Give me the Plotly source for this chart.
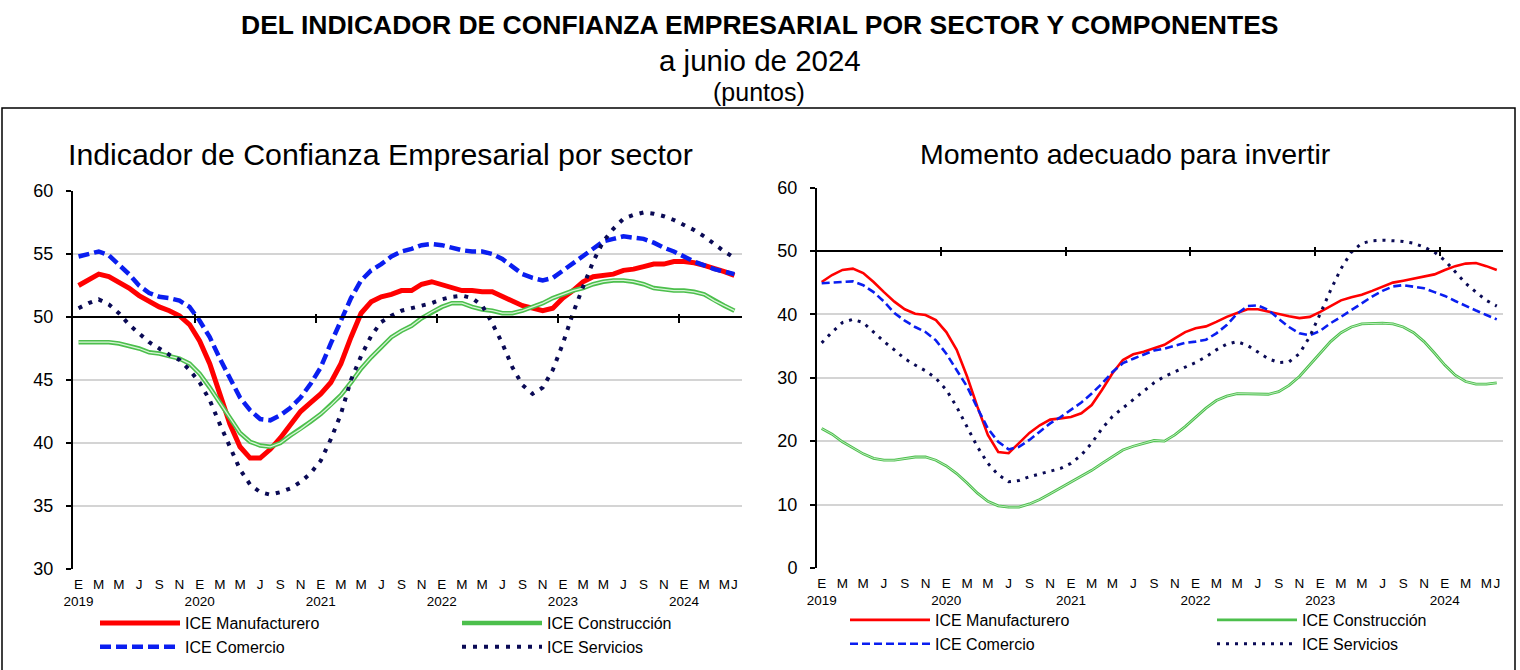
import plotly.graph_objects as go

W, H = 1520, 670

# months Jan 2019 .. Jun 2024
meses = ["%d-%02d" % (a, m) for a in range(2019, 2025) for m in range(1, 13)][:66]
letras = ["E", "F", "M", "A", "M", "J", "J", "A", "S", "O", "N", "D"]

# --- Indicador de Confianza Empresarial por sector (puntos)
ice_manuf = [52.5, 53.0, 53.4, 53.2, 52.8, 52.3, 51.7, 51.2, 50.8, 50.5, 50.1, 49.4,
             48.1, 46.3, 43.9, 41.5, 39.7, 38.8, 38.8, 39.5, 40.4, 41.5, 42.5, 43.2,
             43.9, 44.8, 46.3, 48.4, 50.3, 51.2, 51.6, 51.8, 52.1, 52.1, 52.6, 52.8,
             52.6, 52.3, 52.1, 52.1, 52.0, 52.0, 51.6, 51.3, 50.9, 50.7, 50.5, 50.7,
             51.5, 52.1, 52.8, 53.2, 53.3, 53.4, 53.7, 53.8, 54.0, 54.2, 54.2, 54.4,
             54.4, 54.3, 54.1, 53.9, 53.6, 53.3]
ice_comercio = [54.8, 55.0, 55.2, 54.9, 54.2, 53.4, 52.5, 51.9, 51.6, 51.5, 51.3, 50.8,
                49.7, 48.4, 46.7, 45.1, 43.6, 42.6, 41.9, 41.8, 42.2, 42.8, 43.6, 44.7,
                46.0, 47.9, 49.7, 51.5, 52.9, 53.7, 54.2, 54.8, 55.2, 55.4, 55.7, 55.8,
                55.7, 55.5, 55.3, 55.2, 55.2, 55.0, 54.6, 54.0, 53.4, 53.1, 52.9, 53.1,
                53.7, 54.2, 54.9, 55.4, 56.0, 56.2, 56.4, 56.3, 56.2, 55.9, 55.5, 55.2,
                54.8, 54.4, 54.1, 53.8, 53.6, 53.4]
ice_construccion = [48.0, 48.0, 48.0, 48.0, 47.9, 47.7, 47.5, 47.2, 47.1, 46.9, 46.7, 46.3,
                    45.5, 44.4, 43.2, 42.0, 40.8, 40.1, 39.8, 39.7, 40.0, 40.6, 41.1, 41.7,
                    42.3, 43.0, 43.8, 44.8, 45.9, 46.8, 47.6, 48.4, 48.9, 49.3, 49.9, 50.4,
                    50.8, 51.1, 51.1, 50.8, 50.6, 50.5, 50.3, 50.3, 50.5, 50.8, 51.1, 51.5,
                    51.8, 52.1, 52.3, 52.6, 52.8, 52.9, 52.9, 52.8, 52.6, 52.3, 52.2, 52.1,
                    52.1, 52.0, 51.8, 51.3, 50.9, 50.5]
ice_servicios = [50.7, 51.1, 51.4, 51.0, 50.3, 49.4, 48.7, 48.0, 47.5, 47.0, 46.6, 45.8,
                 44.8, 43.4, 41.5, 39.7, 37.9, 36.7, 36.1, 35.9, 36.1, 36.4, 36.9, 37.6,
                 38.6, 40.3, 42.3, 45.0, 46.9, 48.5, 49.6, 50.1, 50.5, 50.7, 50.9, 51.1,
                 51.4, 51.6, 51.7, 51.5, 50.9, 49.5, 47.9, 46.0, 44.6, 43.9, 44.4, 45.8,
                 47.9, 50.3, 52.4, 54.4, 56.0, 57.0, 57.8, 58.1, 58.3, 58.2, 58.0, 57.7,
                 57.3, 56.9, 56.4, 55.8, 55.2, 54.7]

# --- Momento adecuado para invertir (puntos)
inv_manuf = [45.1, 46.2, 47.0, 47.2, 46.5, 45.1, 43.5, 42.0, 40.8, 40.1, 39.9, 39.1,
             37.2, 34.4, 30.2, 25.4, 21.0, 18.3, 18.1, 19.7, 21.3, 22.5, 23.4, 23.6,
             23.8, 24.4, 25.7, 28.1, 30.7, 32.8, 33.7, 34.1, 34.6, 35.2, 36.2, 37.2,
             37.8, 38.1, 38.8, 39.6, 40.2, 40.8, 40.8, 40.4, 40.0, 39.7, 39.4, 39.6,
             40.4, 41.3, 42.2, 42.7, 43.1, 43.7, 44.4, 45.0, 45.3, 45.6, 45.9, 46.3,
             47.0, 47.6, 48.0, 48.1, 47.6, 47.0]
inv_comercio = [44.9, 45.0, 45.2, 45.2, 44.6, 43.5, 42.0, 40.2, 39.0, 38.0, 37.2, 35.9,
                33.8, 31.2, 28.6, 25.2, 22.0, 19.9, 18.7, 19.1, 20.2, 21.5, 22.8, 23.8,
                24.9, 26.1, 27.5, 29.1, 30.9, 32.3, 33.0, 33.6, 34.3, 34.6, 35.1, 35.5,
                35.7, 36.0, 37.0, 38.3, 40.1, 41.3, 41.4, 40.7, 39.3, 38.0, 37.0, 36.7,
                37.4, 38.6, 39.6, 40.7, 41.7, 42.8, 43.7, 44.4, 44.6, 44.4, 44.1, 43.5,
                42.9, 42.1, 41.3, 40.6, 39.9, 39.2]
inv_construccion = [22.0, 21.1, 19.9, 18.9, 18.0, 17.3, 17.0, 17.0, 17.3, 17.5, 17.5, 17.0,
                    16.1, 14.9, 13.4, 11.8, 10.5, 9.8, 9.6, 9.6, 10.1, 10.8, 11.7, 12.6,
                    13.6, 14.5, 15.4, 16.5, 17.6, 18.6, 19.2, 19.6, 20.1, 20.0, 21.0, 22.3,
                    23.8, 25.2, 26.4, 27.1, 27.5, 27.5, 27.4, 27.4, 27.8, 28.8, 30.2, 32.0,
                    33.9, 35.7, 37.1, 38.0, 38.5, 38.6, 38.6, 38.5, 38.0, 37.1, 35.7, 33.9,
                    32.0, 30.4, 29.4, 29.0, 29.0, 29.2]
inv_servicios = [35.5, 37.2, 38.7, 39.2, 38.7, 37.2, 35.7, 34.4, 33.0, 32.0, 31.1, 29.9,
                 28.1, 25.4, 22.3, 19.1, 16.5, 14.7, 13.6, 13.8, 14.4, 14.8, 15.2, 15.7,
                 16.5, 17.8, 19.7, 22.0, 23.9, 25.2, 26.5, 27.8, 29.2, 30.2, 30.9, 31.6,
                 32.4, 33.3, 34.4, 35.3, 35.7, 35.1, 34.1, 33.0, 32.4, 32.5, 33.8, 36.5,
                 40.1, 43.8, 47.2, 49.8, 51.2, 51.6, 51.7, 51.6, 51.5, 51.2, 50.6, 49.8,
                 48.5, 46.7, 44.9, 43.5, 42.2, 41.3]

# tick labels: every other month, plus the last one
tick_idx = list(range(0, 66, 2)) + [65]
tick_vals = [meses[i] for i in tick_idx]
tick_text = []
for i in tick_idx:
    a, m = meses[i].split("-")
    t = letras[int(m) - 1]
    if m == "01":
        t = t + "<br>" + a
    tick_text.append(t)
year_marks = [11.5, 23.5, 35.5, 47.5, 59.5]

ROJO = "#FF0000"
AZUL = "#0A1EF0"
VERDE = "#4CBF4C"
VERDE_CL = "#D8F5D8"
MARINO = "#0A0A55"
FONT = "Liberation Sans, Arial, sans-serif"


def px_x(p):
    return p / W


def px_y(p):
    return 1 - p / H


fig = go.Figure()

# left panel
fig.add_trace(go.Scatter(x=meses, y=ice_manuf, name="ICE Manufacturero", mode="lines",
                         line=dict(color=ROJO, width=5), xaxis="x", yaxis="y", legend="legend"))
fig.add_trace(go.Scatter(x=meses, y=ice_comercio, name="ICE Comercio", mode="lines",
                         line=dict(color=AZUL, width=4.5, dash="11px,5px"), xaxis="x", yaxis="y",
                         legend="legend"))
fig.add_trace(go.Scatter(x=meses, y=ice_construccion, name="ICE Construcción", mode="lines",
                         line=dict(color=VERDE, width=4.5), xaxis="x", yaxis="y", legend="legend2"))
fig.add_trace(go.Scatter(x=meses, y=ice_construccion, mode="lines", showlegend=False, hoverinfo="skip",
                         line=dict(color=VERDE_CL, width=1.3), xaxis="x", yaxis="y"))
fig.add_trace(go.Scatter(x=meses, y=ice_servicios, name="ICE Servicios", mode="lines",
                         line=dict(color=MARINO, width=4, dash="4px,7px"), xaxis="x", yaxis="y",
                         legend="legend2"))

# right panel
fig.add_trace(go.Scatter(x=meses, y=inv_manuf, name="ICE Manufacturero", mode="lines",
                         line=dict(color=ROJO, width=2.6), xaxis="x2", yaxis="y2", legend="legend3"))
fig.add_trace(go.Scatter(x=meses, y=inv_comercio, name="ICE Comercio", mode="lines",
                         line=dict(color=AZUL, width=2.6, dash="8px,4px"), xaxis="x2", yaxis="y2",
                         legend="legend3"))
fig.add_trace(go.Scatter(x=meses, y=inv_construccion, name="ICE Construcción", mode="lines",
                         line=dict(color=VERDE, width=2.8), xaxis="x2", yaxis="y2", legend="legend4"))
fig.add_trace(go.Scatter(x=meses, y=inv_construccion, mode="lines", showlegend=False, hoverinfo="skip",
                         line=dict(color=VERDE_CL, width=0.8), xaxis="x2", yaxis="y2"))
fig.add_trace(go.Scatter(x=meses, y=inv_servicios, name="ICE Servicios", mode="lines",
                         line=dict(color=MARINO, width=3, dash="3px,6px"), xaxis="x2", yaxis="y2",
                         legend="legend4"))

# empty traces so the year-mark axes get drawn
fig.add_trace(go.Scatter(x=[], y=[], xaxis="x3", yaxis="y", showlegend=False))
fig.add_trace(go.Scatter(x=[], y=[], xaxis="x4", yaxis="y2", showlegend=False))

dom_x1 = [px_x(73), px_x(742)]
dom_x2 = [px_x(817), px_x(1503)]
dom_y1 = [px_y(569), px_y(191)]
dom_y2 = [px_y(568), px_y(187.5)]

xcommon = dict(type="category", categoryorder="array", categoryarray=meses,
               tickmode="array", tickvals=tick_vals, ticktext=tick_text, tickangle=0,
               showgrid=False, zeroline=False, showline=False, ticks="", automargin=False,
               ticklabelstandoff=5,
               tickfont=dict(family=FONT, size=13.5, color="#000000"))
ycommon = dict(showgrid=True, gridcolor="#D4D4D4", gridwidth=2, zeroline=False,
               showline=True, linecolor="#000000", linewidth=2, ticks="outside",
               ticklen=5, tickwidth=2, tickcolor="#000000", automargin=False,
               ticklabelstandoff=9,
               tickfont=dict(family=FONT, size=18, color="#000000"))
marks = dict(type="linear", anchor="free", showline=False, showgrid=False, zeroline=False,
             ticks="outside", ticklen=9, tickwidth=2, tickcolor="#000000", automargin=False,
             showticklabels=False, tickmode="array", tickvals=year_marks)

legend_style = dict(orientation="v", xanchor="left", yanchor="top", bgcolor="rgba(0,0,0,0)",
                    font=dict(family=FONT, size=16, color="#000000"), itemwidth=80,
                    tracegroupgap=0)

fig.update_layout(
    width=W, height=H,
    margin=dict(l=0, r=0, t=0, b=0, autoexpand=False),
    paper_bgcolor="white", plot_bgcolor="white",
    font=dict(family=FONT, color="#000000"),
    xaxis=dict(domain=dom_x1, anchor="y", range=[-0.55, 65.75], **xcommon),
    yaxis=dict(domain=dom_y1, anchor="x", range=[30, 60], dtick=5, **ycommon),
    xaxis2=dict(domain=dom_x2, anchor="y2", range=[-0.45, 65.6], **xcommon),
    yaxis2=dict(domain=dom_y2, anchor="x2", range=[0, 60], dtick=10, **ycommon),
    xaxis3=dict(domain=dom_x1, overlaying="x", position=px_y(312.5), range=[-0.55, 65.75], **marks),
    xaxis4=dict(domain=dom_x2, overlaying="x2", position=px_y(246.2), range=[-0.45, 65.6], **marks),
    legend=dict(x=px_x(95), y=px_y(606), **legend_style),
    legend2=dict(x=px_x(457), y=px_y(606), **legend_style),
    legend3=dict(x=px_x(845), y=px_y(603), **legend_style),
    legend4=dict(x=px_x(1212), y=px_y(603), **legend_style),
    showlegend=True,
)

# 50-point reference lines
fig.add_shape(type="line", xref="x domain", yref="y", x0=0, x1=1, y0=50, y1=50,
              line=dict(color="#000000", width=2))
fig.add_shape(type="line", xref="x2 domain", yref="y2", x0=0, x1=1, y0=50, y1=50,
              line=dict(color="#000000", width=2))

# outer frame
fig.add_shape(type="rect", xref="paper", yref="paper", x0=px_x(2), x1=px_x(1515),
              y0=-0.05, y1=px_y(108), line=dict(color="#000000", width=1.5), layer="below")

titulo = dict(xref="paper", yref="paper", showarrow=False, xanchor="center", yanchor="middle")
fig.add_annotation(text="<b>DEL INDICADOR DE CONFIANZA EMPRESARIAL POR SECTOR Y COMPONENTES</b>",
                   x=px_x(760), y=px_y(25), font=dict(family=FONT, size=26.5, color="#000000"), **titulo)
fig.add_annotation(text="a junio de 2024", x=px_x(760), y=px_y(60),
                   font=dict(family=FONT, size=29.5, color="#000000"), **titulo)
fig.add_annotation(text="(puntos)", x=px_x(759), y=px_y(92),
                   font=dict(family=FONT, size=25, color="#000000"), **titulo)
fig.add_annotation(text="Indicador de Confianza Empresarial por sector", x=px_x(380.5), y=px_y(154),
                   font=dict(family=FONT, size=30.3, color="#000000"), **titulo)
fig.add_annotation(text="Momento adecuado para invertir", x=px_x(1125), y=px_y(154),
                   font=dict(family=FONT, size=28.5, color="#000000"), **titulo)

fig.write_html("out.html", config={"displayModeBar": False},
               post_script="document.body.style.margin='0';")
